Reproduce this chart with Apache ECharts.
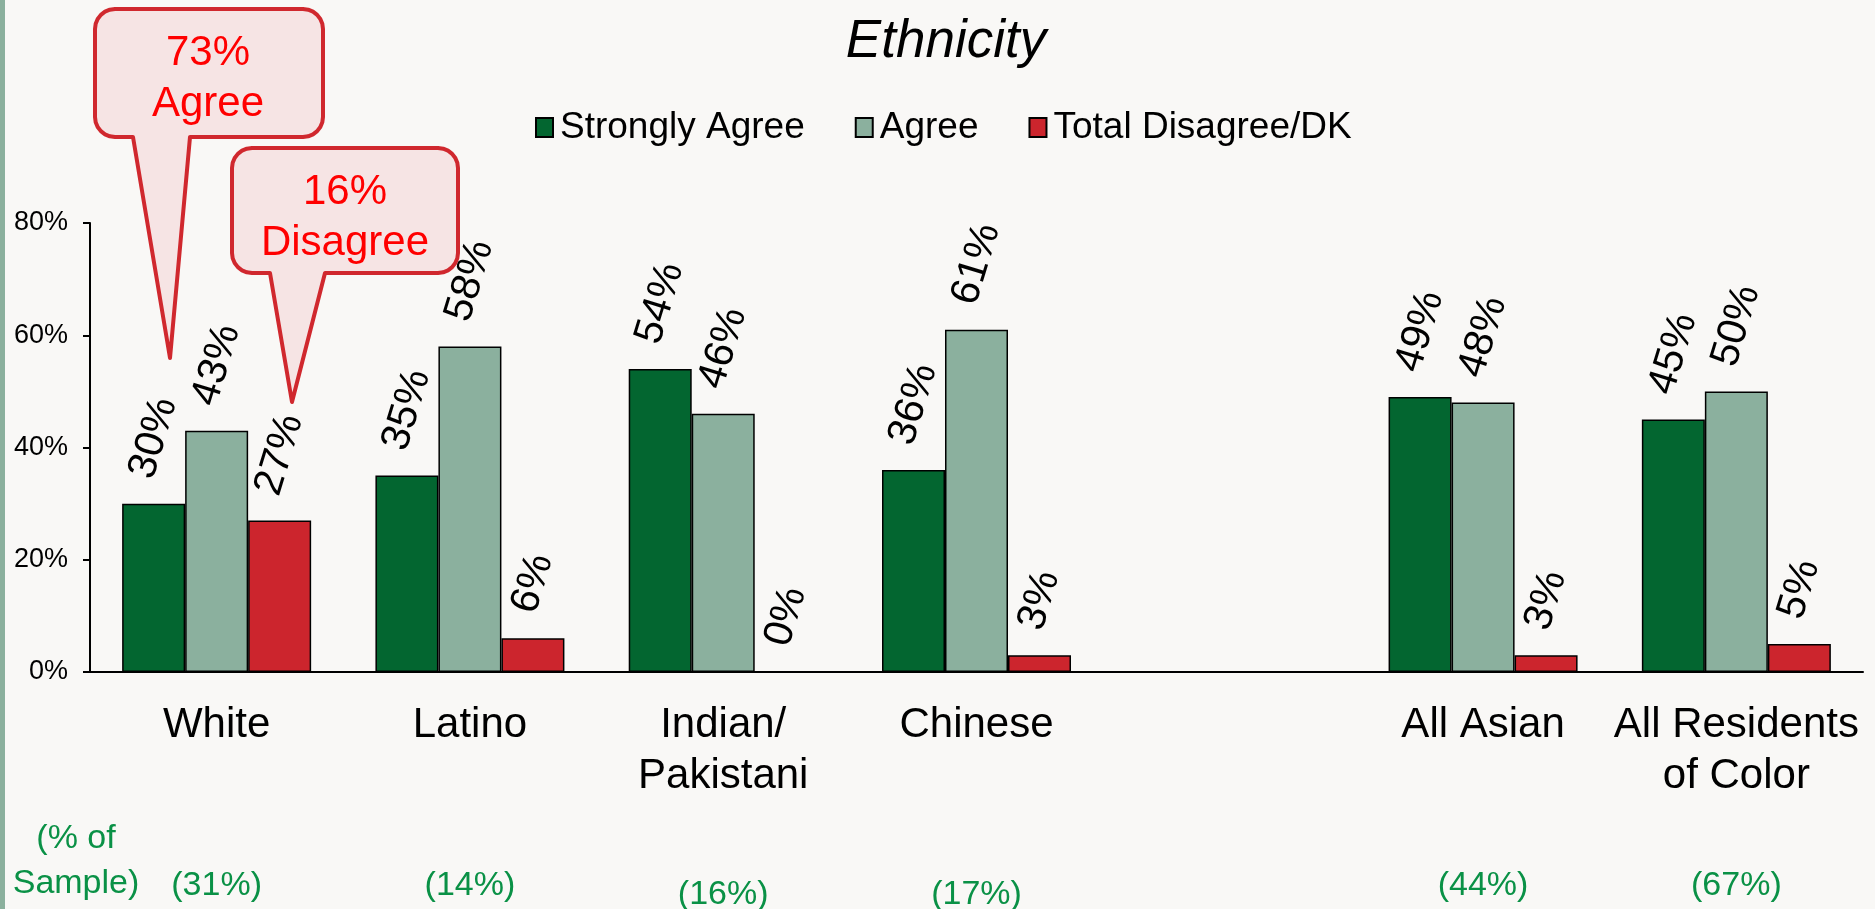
<!DOCTYPE html>
<html>
<head>
<meta charset="utf-8">
<title>Ethnicity</title>
<script src="https://cdn.jsdelivr.net/npm/echarts@6/dist/echarts.min.js"></script>
<style>
  html, body { margin: 0; padding: 0; background: #f9f8f6; }
  #chart { width: 1875px; height: 909px; }
</style>
</head>
<body>
<div id="chart"></div>
<script>
// x axis slots ('' is the gap between Chinese and All Asian)
var categories = ['White', 'Latino', 'Indian/\nPakistani', 'Chinese', '', 'All Asian', 'All Residents\nof Color'];
var sampleShare = ['(31%)', '(14%)', '(16%)', '(17%)', '', '(44%)', '(67%)'];
var seriesNames = ['Strongly Agree', 'Agree', 'Total Disagree/DK'];
var stronglyAgree = [30, 35, 54, 36, null, 49, 45];
var agree = [43, 58, 46, 61, null, 48, 50];
var disagree = [27, 6, 0, 3, null, 3, 5];
var callouts = [['73%', 'Agree'], ['16%', 'Disagree']];

var FONT = 'Liberation Sans, Arial, Helvetica, sans-serif';
var GREEN_TEXT = '#0a9146';
var LABEL_SIZE = 41;
var LABEL_ROT = 73;
// sample labels that sit a little lower in the original
var lowerSample = [2, 3];

// keep the rotated label box a fixed gap above the bar top
function labelDistance(v) {
  var w = (String(v).length * 0.556 + 0.889) * LABEL_SIZE;
  var h = 0.72 * LABEL_SIZE;
  var r = LABEL_ROT * Math.PI / 180;
  return 22 + (w * Math.sin(r) + h * Math.cos(r)) / 2;
}

function barSeries(name, values, color) {
  return {
    name: name,
    type: 'bar',
    barWidth: 63,
    barGap: '0%',
    silent: true,
    itemStyle: { color: color, borderColor: '#000', borderWidth: 1.5 },
    label: {
      show: true,
      position: 'top',
      rotate: LABEL_ROT,
      align: 'center',
      verticalAlign: 'middle',
      formatter: '{c}%',
      fontSize: LABEL_SIZE,
      fontFamily: FONT,
      color: '#000'
    },
    data: values.map(function (v) {
      return v == null ? null : { value: v, label: { distance: labelDistance(v) } };
    })
  };
}

// speech bubble outline: rounded box with a pointer hanging from the bottom edge
function bubble(box, ptr) {
  var x0 = box[0], y0 = box[1], x1 = box[2], y1 = box[3], r = 20;
  var pts = [];
  function corner(cx, cy, a0) {
    for (var k = 0; k <= 6; k++) {
      var a = (a0 + k * 15) * Math.PI / 180;
      pts.push([cx + r * Math.cos(a), cy + r * Math.sin(a)]);
    }
  }
  corner(x1 - r, y0 + r, 270);
  corner(x1 - r, y1 - r, 0);
  pts.push([ptr[1], y1], [ptr[2], ptr[3]], [ptr[0], y1]);
  corner(x0 + r, y1 - r, 90);
  corner(x0 + r, y0 + r, 180);
  return pts;
}

function sampleAxis(offset, lower) {
  return {
    type: 'category',
    position: 'bottom',
    offset: offset,
    data: sampleShare,
    axisLine: { show: false },
    axisTick: { show: false },
    axisLabel: {
      interval: 0,
      margin: 0,
      fontSize: 34,
      lineHeight: 38,
      fontFamily: FONT,
      color: GREEN_TEXT,
      formatter: function (v, i) {
        return (lowerSample.indexOf(i) >= 0) === lower ? v : '';
      }
    }
  };
}

var chart = echarts.init(document.getElementById('chart'));

chart.setOption({
  backgroundColor: '#f9f8f6',
  animation: false,
  textStyle: { fontFamily: FONT },
  grid: { left: 90, right: 12, top: 223, bottom: 237, containLabel: false, outerBoundsMode: 'none' },
  legend: {
    data: seriesNames,
    left: 530,
    top: 104,
    itemWidth: 17,
    itemHeight: 19,
    itemGap: 50,
    icon: 'rect',
    textStyle: { fontSize: 37, color: '#000', fontFamily: FONT, padding: [0, 0, 0, 2] }
  },
  xAxis: [
    {
      type: 'category',
      data: categories,
      axisLine: { lineStyle: { color: '#000', width: 2 } },
      axisTick: { show: false },
      axisLabel: {
        interval: 0,
        margin: 28,
        fontSize: 42,
        lineHeight: 51,
        color: '#000',
        fontFamily: FONT
      }
    },
    sampleAxis(195, false),
    sampleAxis(204, true)
  ],
  yAxis: {
    type: 'value',
    min: 0,
    max: 80,
    interval: 20,
    axisLine: { show: true, lineStyle: { color: '#000', width: 2 } },
    axisTick: { show: true, length: 7, lineStyle: { color: '#000', width: 2 } },
    splitLine: { show: false },
    axisLabel: { formatter: '{value}%', fontSize: 27, margin: 22, color: '#000', fontFamily: FONT }
  },
  series: [
    barSeries(seriesNames[0], stronglyAgree, '#036630'),
    barSeries(seriesNames[1], agree, '#8bb09e'),
    barSeries(seriesNames[2], disagree, '#cc252d')
  ],
  graphic: [
    { type: 'rect', left: 0, top: 0, shape: { width: 5, height: 909 }, style: { fill: '#8bb09d' }, silent: true },
    {
      type: 'text', x: 946, y: 42,
      style: { text: 'Ethnicity', fontSize: 53, fontStyle: 'italic', fontFamily: FONT, fill: '#000', align: 'center', verticalAlign: 'middle' }
    },
    {
      type: 'text', x: 76, y: 861,
      style: { text: '(% of\nSample)', fontSize: 34, lineHeight: 45, fontFamily: FONT, fill: GREEN_TEXT, align: 'center', verticalAlign: 'middle' }
    },
    {
      type: 'polygon', silent: true,
      shape: { points: bubble([95, 9, 323, 137], [133, 190, 170, 358]) },
      style: { fill: '#f6e4e4', stroke: '#d0282e', lineWidth: 4, lineJoin: 'round' }
    },
    {
      type: 'text', x: 208, y: 79,
      style: { text: callouts[0].join('\n'), fontSize: 42, lineHeight: 51, fontFamily: FONT, fill: '#ff0000', align: 'center', verticalAlign: 'middle' }
    },
    {
      type: 'polygon', silent: true,
      shape: { points: bubble([232, 148, 458, 273], [270, 325, 292, 402]) },
      style: { fill: '#f6e4e4', stroke: '#d0282e', lineWidth: 4, lineJoin: 'round' }
    },
    {
      type: 'text', x: 345, y: 218,
      style: { text: callouts[1].join('\n'), fontSize: 42, lineHeight: 51, fontFamily: FONT, fill: '#ff0000', align: 'center', verticalAlign: 'middle' }
    }
  ]
});
</script>
</body>
</html>
